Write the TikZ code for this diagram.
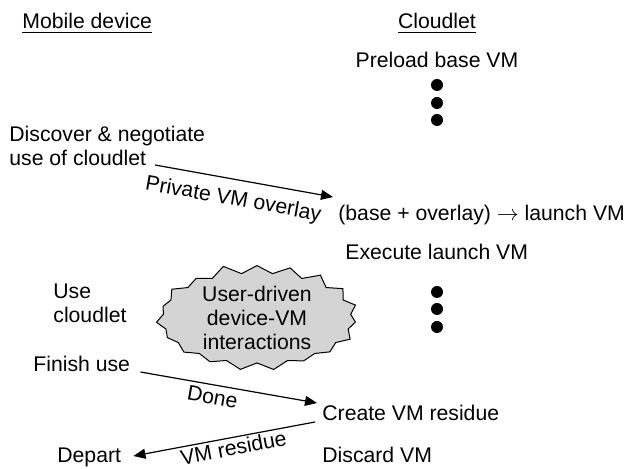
\documentclass[tikz,border=0pt]{standalone}
\usepackage{fontspec}
\setmainfont{Liberation Sans}
\usetikzlibrary{arrows.meta,shapes.symbols,calc}
\definecolor{BlobGray}{RGB}{212,212,212}

\begin{document}
\begin{tikzpicture}[x=0.5pt,y=-0.5pt,
  txt/.style={inner sep=0pt,font=\fontsize{10.6}{12}\selectfont,anchor=base west},
  head/.style={txt,anchor=base},
  dot/.style={circle,fill=black,inner sep=0pt,minimum size=6pt},
  arrow/.style={-{Triangle[length=6pt,width=5pt]},line width=0.6pt},
  msg/.style={font=\fontsize{10.6}{12}\selectfont,sloped,below,inner sep=0pt},
  blob/.style={starburst,starburst points=19,starburst point height=5pt,random starburst=11,draw=black,line width=0.5pt,fill=BlobGray,align=center,inner sep=0pt,minimum width=104pt,minimum height=52pt,font=\fontsize{10.6}{12}\selectfont}
]
  \useasboundingbox (0,0) rectangle (627,469);
  \node[txt] (mobile) at (22,29) {\underline{Mobile device}};
  \node[head] (cloudlet) at (437,29) {\underline{Cloudlet}};
  \node[head] (preload) at (437,68) {Preload base VM};
  \node[dot] (d1) at (437,85) {};
  \node[dot] (d2) at (437,103) {};
  \node[dot] (d3) at (437,120) {};
  \node[txt,anchor=south west,align=left,text depth=0pt] (disc) at (9,166) {Discover \& negotiate\\use of cloudlet};
  \node[txt] (launch) at (338,221) {(base + overlay) $\rightarrow$ launch VM};
  \node[txt] (exec) at (345,260) {Execute launch VM};
  \node[txt,align=left] (use) at (53,323) {Use\\cloudlet};
  \node[blob] (blob) at (257,318) {User-driven\\device-VM\\interactions};
  \node[dot] (d4) at (437,292) {};
  \node[dot] (d5) at (437,309) {};
  \node[dot] (d6) at (437,327) {};
  \node[txt] (finish) at (33,372) {Finish use};
  \node[txt] (create) at (322,421) {Create VM residue};
  \node[txt] (depart) at (57,463) {Depart};
  \node[txt] (discard) at (322,463) {Discard VM};
  \draw[arrow] ([shift={(146,-1)}]disc.south west) -- node[msg,pos=0.46,yshift=-5pt] {Private VM overlay} ([shift={(-5,-24)}]launch.base west);
  \draw[arrow] ([shift={(10,0)}]finish.base east) -- node[msg,pos=0.42,yshift=-2pt] {Done} ([shift={(-5,-18)}]create.base west);
  \draw[arrow] ([shift={(-7,1)}]create.base west) -- node[msg,pos=0.46,yshift=-1pt] {VM residue} ([shift={(12,-7)}]depart.base east);
\end{tikzpicture}
\end{document}
